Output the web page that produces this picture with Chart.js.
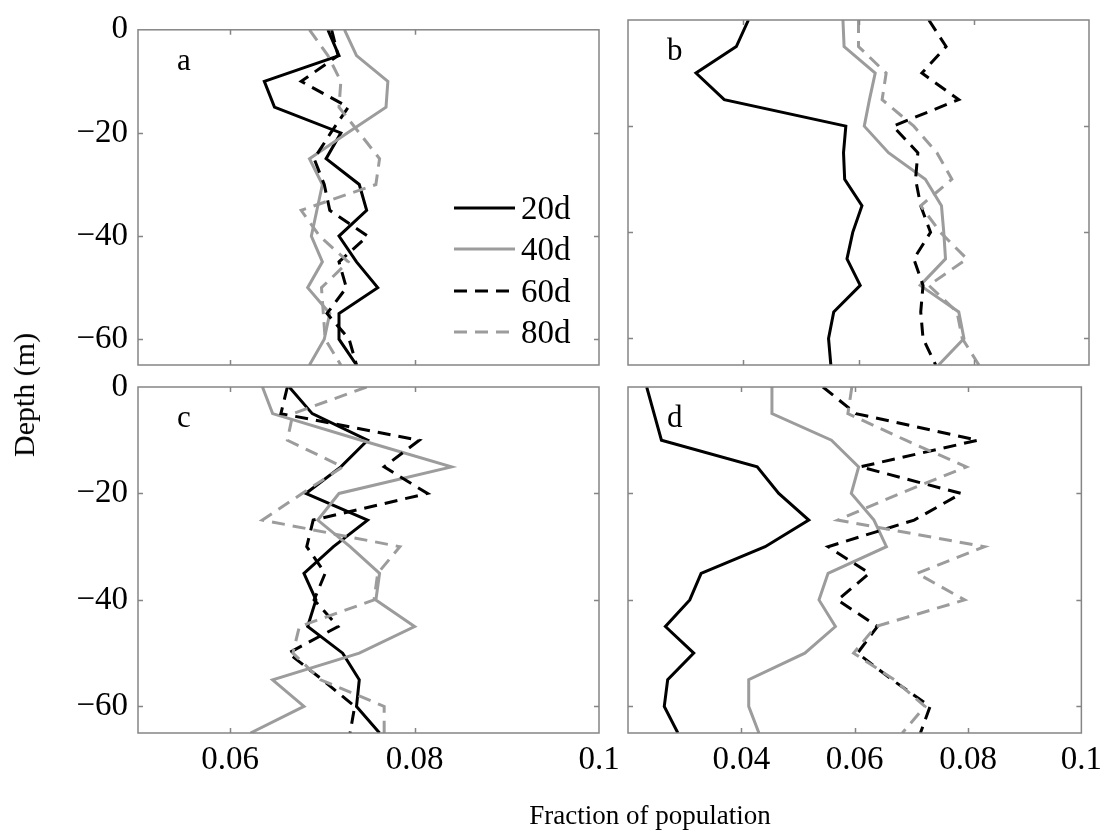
<!DOCTYPE html>
<html>
<head>
<meta charset="utf-8">
<script src="https://cdn.jsdelivr.net/npm/chart.js@4.4.1/dist/chart.umd.min.js"></script>
<style>
  html, body { margin: 0; padding: 0; background: #ffffff; }
  #wrap { position: relative; width: 1110px; height: 836px; overflow: hidden; background: #ffffff; }
  #wrap canvas { position: absolute; left: 0; top: 0; }
  .title { position: absolute; font-family: "Liberation Serif", "Times New Roman", serif; color: #000; white-space: nowrap; line-height: 1; }
  #ytitle { left: 24px; top: 395px; font-size: 30px; transform: translate(-50%, -50%) rotate(-90deg); }
  #xtitle { left: 650px; top: 815px; font-size: 27px; transform: translate(-50%, -50%); }
</style>
</head>
<body>
<div id="wrap">
  <canvas id="panelA" width="1110" height="836"></canvas>
  <canvas id="panelB" width="1110" height="836"></canvas>
  <canvas id="panelC" width="1110" height="836"></canvas>
  <canvas id="panelD" width="1110" height="836"></canvas>
  <div class="title" id="ytitle">Depth (m)</div>
  <div class="title" id="xtitle">Fraction of population</div>
</div>
<script>
// Depth levels (m) shared by every profile
const depths = [0, -5, -10, -15, -20, -25, -30, -35, -40, -45, -50, -55, -60, -65];

// Series names
const seriesNames = ['20d', '40d', '60d', '80d'];

// Panel a
const a20 = [0.0706, 0.0718, 0.0637, 0.0648, 0.0720, 0.0704, 0.0740, 0.0748, 0.0718, 0.0737, 0.0760, 0.0718, 0.0718, 0.0737];
const a40 = [0.0724, 0.0737, 0.0771, 0.0769, 0.0727, 0.0686, 0.0700, 0.0694, 0.0688, 0.0700, 0.0684, 0.0708, 0.0702, 0.0686];
const a60 = [0.0710, 0.0717, 0.0677, 0.0728, 0.0709, 0.0691, 0.0702, 0.0708, 0.0749, 0.0718, 0.0726, 0.0705, 0.0729, 0.0737];
const a80 = [0.0686, 0.0706, 0.0720, 0.0718, 0.0740, 0.0762, 0.0758, 0.0677, 0.0697, 0.0728, 0.0699, 0.0701, 0.0703, 0.0720];

// Panel b
const b20 = [0.0409, 0.0388, 0.0318, 0.0367, 0.0578, 0.0574, 0.0576, 0.0606, 0.0590, 0.0580, 0.0603, 0.0557, 0.0548, 0.0552];
const b40 = [0.0573, 0.0575, 0.0629, 0.0619, 0.0610, 0.0652, 0.0716, 0.0744, 0.0748, 0.0751, 0.0707, 0.0774, 0.0783, 0.0739];
const b60 = [0.0722, 0.0752, 0.0710, 0.0774, 0.0660, 0.0703, 0.0699, 0.0708, 0.0725, 0.0696, 0.0712, 0.0708, 0.0712, 0.0734];
const b80 = [0.0600, 0.0600, 0.0648, 0.0641, 0.0696, 0.0736, 0.0762, 0.0708, 0.0742, 0.0788, 0.0722, 0.0771, 0.0780, 0.0809];

// Panel c
const c20 = [0.0664, 0.0689, 0.0749, 0.0720, 0.0682, 0.0749, 0.0712, 0.0680, 0.0693, 0.0684, 0.0722, 0.0740, 0.0737, 0.0762];
const c40 = [0.0635, 0.0646, 0.0742, 0.0840, 0.0718, 0.0695, 0.0730, 0.0762, 0.0758, 0.0800, 0.0740, 0.0646, 0.0680, 0.0622];
const c60 = [0.0662, 0.0655, 0.0805, 0.0767, 0.0814, 0.0690, 0.0683, 0.0703, 0.0691, 0.0717, 0.0663, 0.0700, 0.0735, 0.0730];
const c80 = [0.0748, 0.0668, 0.0662, 0.0722, 0.0678, 0.0635, 0.0784, 0.0760, 0.0756, 0.0675, 0.0668, 0.0698, 0.0767, 0.0767];

// Panel d
const d20 = [0.0233, 0.0246, 0.0259, 0.0428, 0.0466, 0.0519, 0.0442, 0.0329, 0.0309, 0.0266, 0.0316, 0.0270, 0.0264, 0.0288];
const d40 = [0.0454, 0.0454, 0.0559, 0.0607, 0.0594, 0.0634, 0.0656, 0.0553, 0.0537, 0.0566, 0.0512, 0.0413, 0.0413, 0.0431];
const d60 = [0.0544, 0.0602, 0.0817, 0.0610, 0.0788, 0.0705, 0.0553, 0.0626, 0.0570, 0.0640, 0.0605, 0.0666, 0.0733, 0.0716];
const d80 = [0.0595, 0.0588, 0.0690, 0.0797, 0.0680, 0.0570, 0.0829, 0.0710, 0.0794, 0.0637, 0.0598, 0.0670, 0.0724, 0.0684];

// Axis ticks
const depthTicks = [0, -20, -40, -60];
const xTicksLeft = [0.06, 0.08, 0.1];
const xTicksRight = [0.04, 0.06, 0.08, 0.1];

const SERIF = '"Liberation Serif", "Times New Roman", serif';
const TICK_FONT = 33;
const LEGEND_FONT = 33;
const LETTER_FONT = 31;
const BOX_COLOR = '#858585';

const lineStyles = [
  { color: '#000000', dash: [] },
  { color: '#9c9c9c', dash: [] },
  { color: '#000000', dash: [13, 8] },
  { color: '#9c9c9c', dash: [13, 8] }
];

function fmtX(v) {
  return String(Math.round(v * 1000) / 1000);
}
function fmtY(v) {
  return v === 0 ? '0' : (v < 0 ? '\u2212' + Math.abs(v) : String(v));
}

// Box, inward ticks, panel letter and (optionally) legend
const decorPlugin = {
  id: 'decor',
  afterDraw(chart) {
    const o = chart.options.plugins.decor;
    const { ctx, chartArea: ca } = chart;
    const xs = chart.scales.x, ys = chart.scales.y;
    ctx.save();
    ctx.strokeStyle = BOX_COLOR;
    ctx.lineWidth = 1.5;
    ctx.setLineDash([]);
    ctx.strokeRect(ca.left, ca.top, ca.right - ca.left, ca.bottom - ca.top);
    const tl = 5;
    ctx.beginPath();
    o.xTicks.forEach(v => {
      const px = Math.round(xs.getPixelForValue(v)) + 0.5;
      if (px <= ca.left + 1 || px >= ca.right - 1) return;
      ctx.moveTo(px, ca.top); ctx.lineTo(px, ca.top + tl);
      ctx.moveTo(px, ca.bottom); ctx.lineTo(px, ca.bottom - tl);
    });
    depthTicks.forEach(v => {
      const py = Math.round(ys.getPixelForValue(v)) + 0.5;
      if (py <= ca.top + 1 || py >= ca.bottom - 1) return;
      ctx.moveTo(ca.left, py); ctx.lineTo(ca.left + tl, py);
      ctx.moveTo(ca.right, py); ctx.lineTo(ca.right - tl, py);
    });
    ctx.stroke();

    ctx.fillStyle = '#000';
    ctx.font = LETTER_FONT + 'px ' + SERIF;
    ctx.textAlign = 'left';
    ctx.textBaseline = 'alphabetic';
    ctx.fillText(o.letter, ca.left + 39, ca.top + 40);

    if (o.legend) {
      const x0 = ca.left + 316, x1 = ca.left + 377, tx = ca.left + 383;
      const rows = [208, 249, 291, 332];
      ctx.font = LEGEND_FONT + 'px ' + SERIF;
      chart.data.datasets.forEach((ds, i) => {
        const y = rows[i];
        ctx.strokeStyle = ds.borderColor;
        ctx.lineWidth = ds.borderWidth;
        ctx.setLineDash(ds.borderDash || []);
        ctx.beginPath();
        ctx.moveTo(x0, y); ctx.lineTo(x1, y);
        ctx.stroke();
        ctx.setLineDash([]);
        ctx.fillStyle = '#000';
        ctx.fillText(ds.label, tx, y + 11);
      });
    }
    ctx.restore();
  }
};

function makePanel(id, cfg) {
  const W = 1110, H = 836;
  const yAxisW = cfg.showY ? 80 : 0;
  const xAxisH = cfg.showX ? 60 : 0;
  const datasets = cfg.series.map((vals, i) => ({
    label: seriesNames[i],
    data: vals.map((v, k) => ({ x: v, y: depths[k] })),
    showLine: true,
    borderColor: lineStyles[i].color,
    borderDash: lineStyles[i].dash,
    borderWidth: 3,
    borderJoinStyle: 'miter',
    borderCapStyle: 'butt',
    pointRadius: 0,
    pointHoverRadius: 0,
    tension: 0,
    fill: false,
    order: 4 - i
  }));
  return new Chart(document.getElementById(id), {
    type: 'scatter',
    data: { datasets },
    options: {
      responsive: false,
      animation: false,
      devicePixelRatio: 1,
      events: [],
      layout: {
        padding: {
          left: cfg.left - yAxisW,
          right: W - cfg.right,
          top: cfg.top,
          bottom: H - cfg.bottom - xAxisH
        }
      },
      plugins: {
        legend: { display: false },
        tooltip: { enabled: false },
        decor: { letter: cfg.letter, xTicks: cfg.xTicks, legend: !!cfg.legend }
      },
      scales: {
        x: {
          type: 'linear',
          min: cfg.xMin,
          max: 0.1,
          afterBuildTicks: s => { s.ticks = cfg.xTicks.map(v => ({ value: v })); },
          afterFit: s => { s.height = xAxisH; },
          grid: { display: false, drawTicks: false },
          border: { display: false },
          ticks: {
            display: cfg.showX,
            autoSkip: false,
            maxRotation: 0,
            padding: 8,
            color: '#000',
            font: { family: SERIF, size: TICK_FONT },
            callback: v => fmtX(v)
          }
        },
        y: {
          type: 'linear',
          min: -65,
          max: 0,
          afterBuildTicks: s => { s.ticks = depthTicks.map(v => ({ value: v })); },
          afterFit: s => { s.width = yAxisW; },
          grid: { display: false, drawTicks: false },
          border: { display: false },
          ticks: {
            display: cfg.showY,
            autoSkip: false,
            padding: 10,
            color: '#000',
            font: { family: SERIF, size: TICK_FONT },
            callback: v => fmtY(v)
          }
        }
      }
    },
    plugins: [decorPlugin]
  });
}

makePanel('panelA', { series: [a20, a40, a60, a80], left: 138, right: 599, top: 20, bottom: 365,
  xMin: 0.05, xTicks: xTicksLeft, showX: false, showY: true, letter: 'a', legend: true });
makePanel('panelB', { series: [b20, b40, b60, b80], left: 628, right: 1089, top: 20, bottom: 365,
  xMin: 0.02, xTicks: xTicksRight, showX: false, showY: false, letter: 'b' });
makePanel('panelC', { series: [c20, c40, c60, c80], left: 138, right: 599, top: 387, bottom: 733,
  xMin: 0.05, xTicks: xTicksLeft, showX: true, showY: true, letter: 'c' });
makePanel('panelD', { series: [d20, d40, d60, d80], left: 628, right: 1089, top: 387, bottom: 733,
  xMin: 0.02, xTicks: xTicksRight, showX: true, showY: false, letter: 'd' });
</script>
</body>
</html>
